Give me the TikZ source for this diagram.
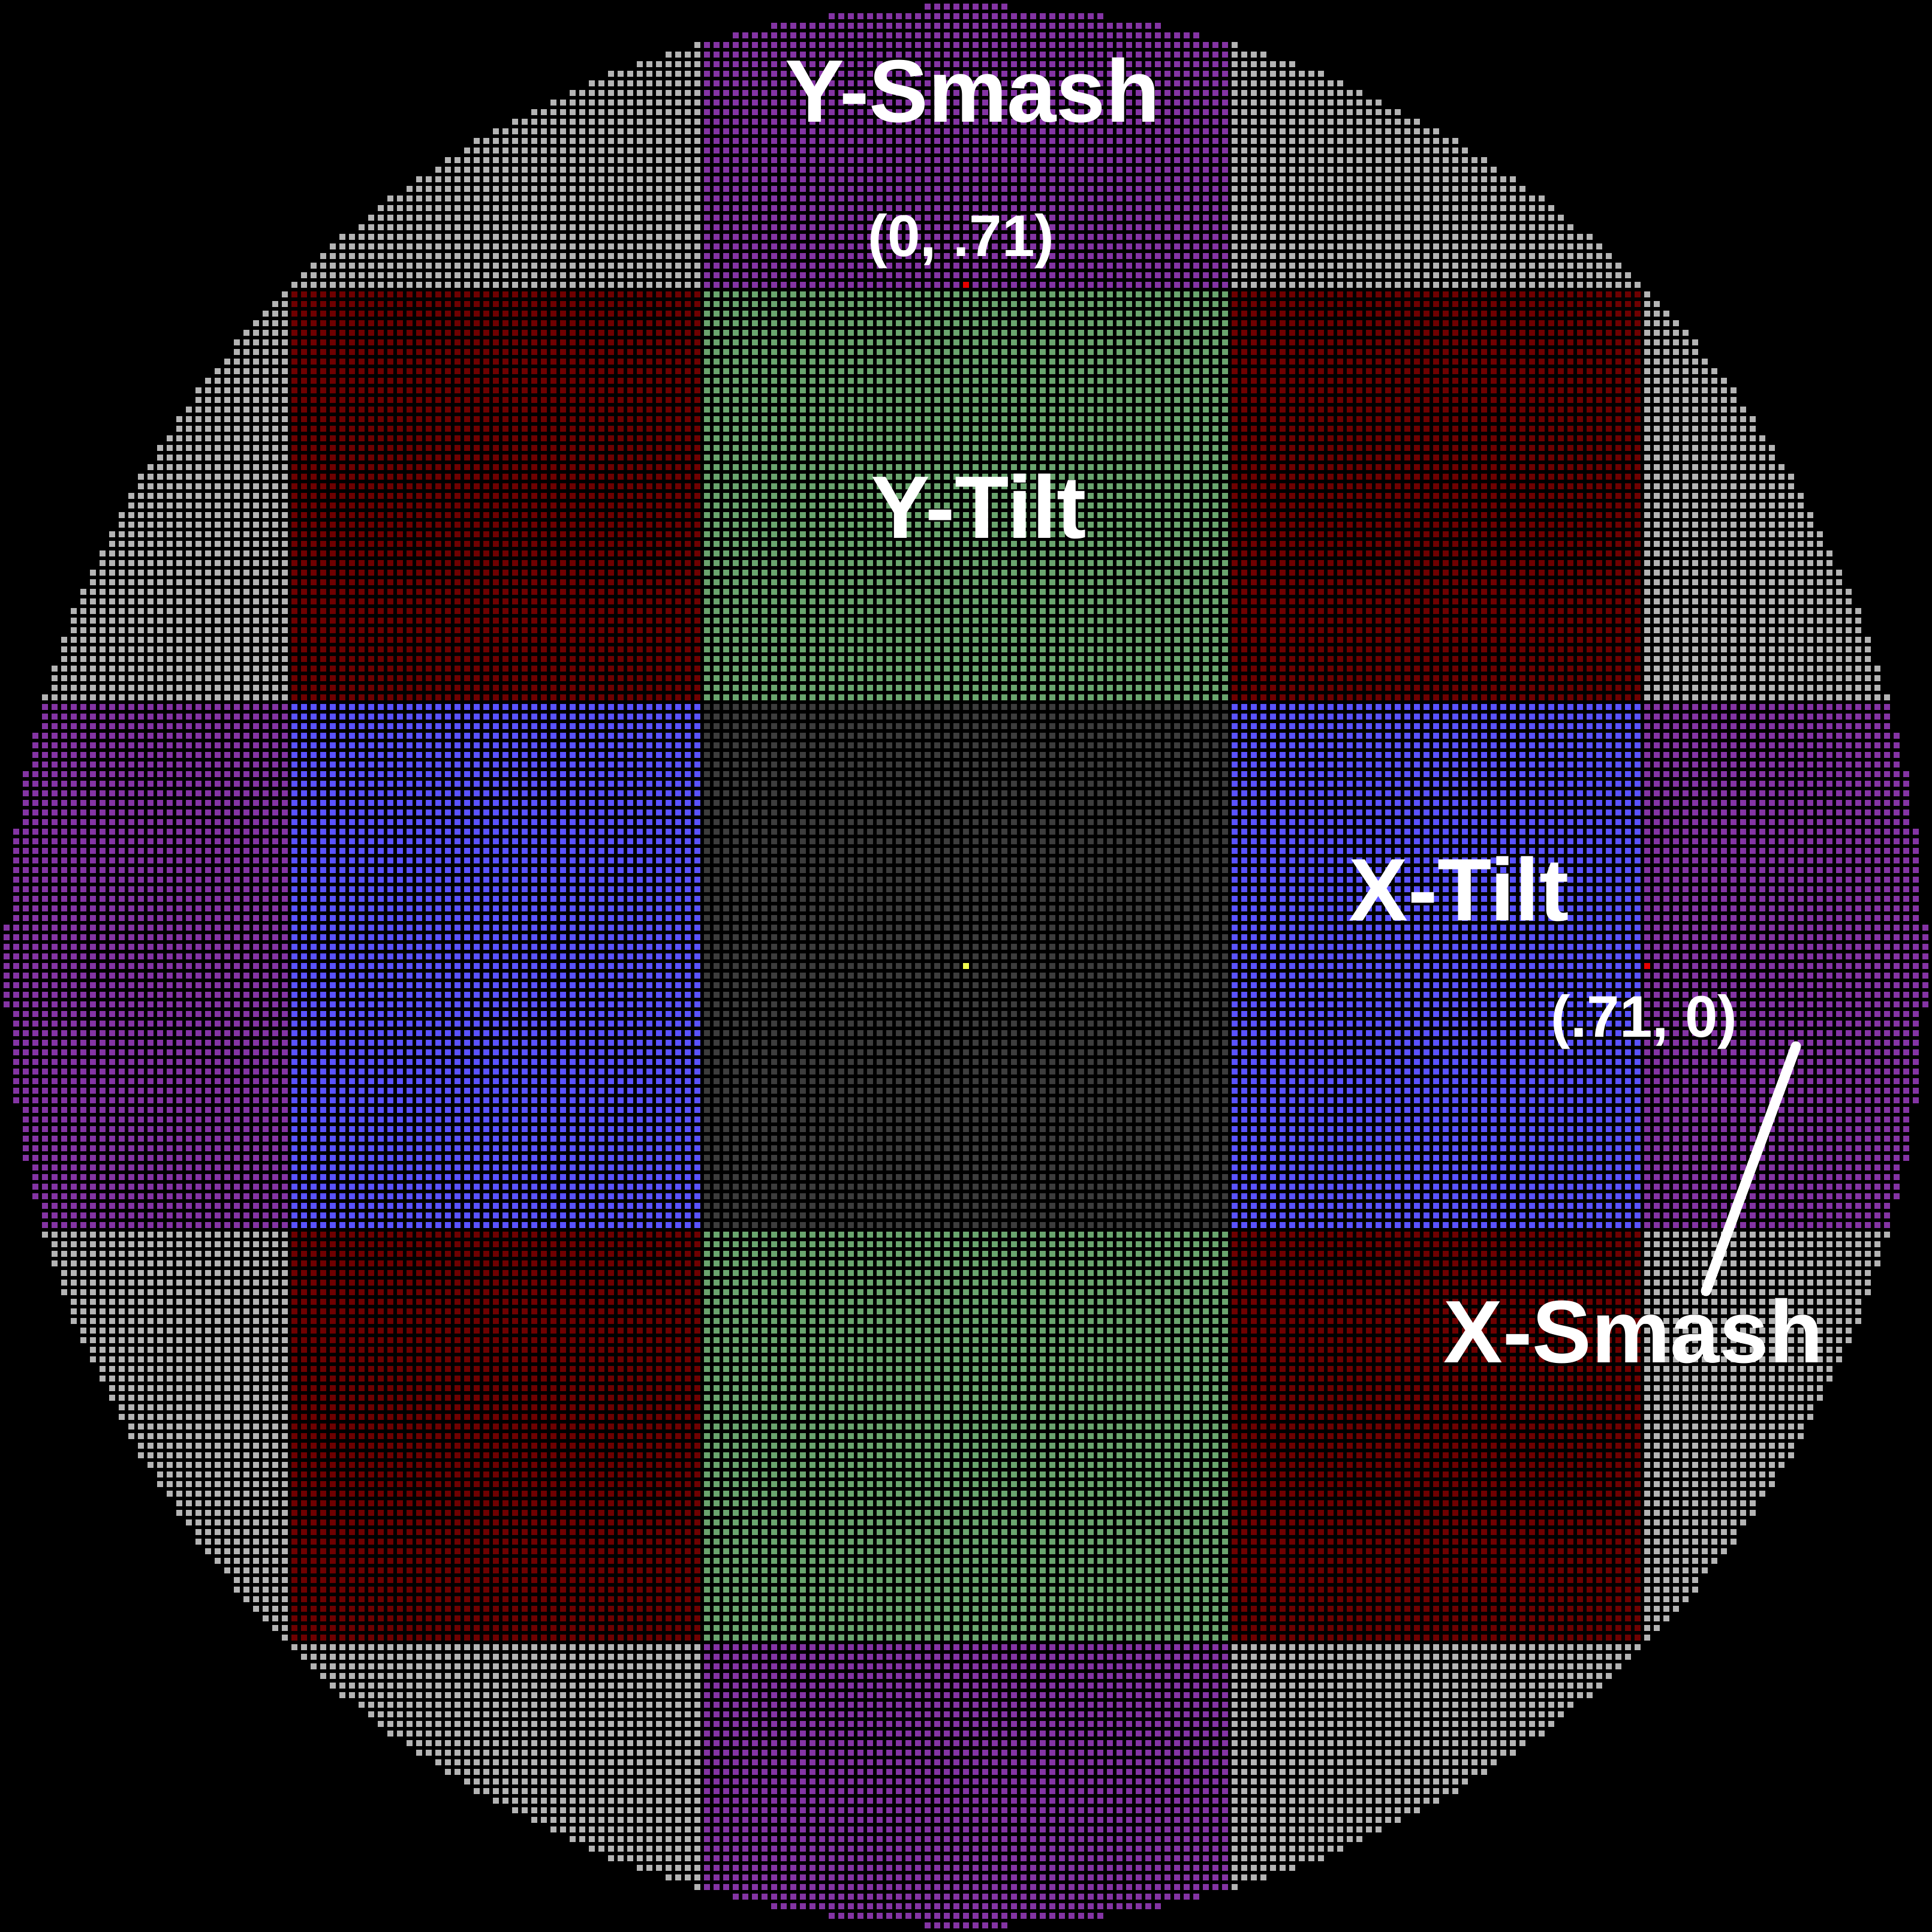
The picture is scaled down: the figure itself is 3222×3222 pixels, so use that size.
\documentclass[tikz,border=0pt]{standalone}
\usepackage{fontspec}
\setmainfont{Liberation Sans}
\definecolor{cz00}{HTML}{3C3C3C}
\definecolor{cz10}{HTML}{5A52FF}
\definecolor{cz20}{HTML}{8434A4}
\definecolor{cz01}{HTML}{6AA46E}
\definecolor{cz11}{HTML}{6E0000}
\definecolor{cz21}{HTML}{B4B4B4}
\definecolor{cz02}{HTML}{8434A4}
\definecolor{cz12}{HTML}{B4B4B4}
\definecolor{cz22}{HTML}{B4B4B4}
\definecolor{markred}{HTML}{E60000}
\definecolor{markyellow}{HTML}{F2FF50}
\tikzset{
  biglbl/.style={text=white, inner sep=0pt, anchor=base, font=\fontsize{148}{150}\selectfont\bfseries},
  smalllbl/.style={text=white, inner sep=0pt, anchor=base, font=\fontsize{98}{100}\selectfont\bfseries},
  leader/.style={draw=white, line width=17pt, line cap=round},
}
\newcommand\segfill[4]{% y-centre, c1, c2, colour
  \fill[#4] ({1611+16*(#2)-5},{#1-5}) rectangle ({1611+16*(#3)+5},{#1+5});}
\newcommand\onecell[3]{% c, r, colour
  \fill[#3] ({1611+16*(#1)-5},{1611+16*(#2)-5}) rectangle ({1611+16*(#1)+5},{1611+16*(#2)+5});}
\begin{document}
\begin{tikzpicture}[x=1pt,y=-1pt]
\fill[black] (0,0) rectangle (3222,3222);
\useasboundingbox (0,0) rectangle (3222,3222);
% rows of cells
\foreach \rw in {-100,...,100}{
  \pgfmathtruncatemacro\m{sqrt(10020-(\rw)*(\rw))}
  \edef\rem{\the\numexpr 10020-(\rw)*(\rw)\relax}
  \ifnum\numexpr(\m+1)*(\m+1)\relax>\rem\relax\else\edef\m{\the\numexpr\m+1\relax}\fi
  \ifnum\numexpr\m*\m\relax>\rem\relax\edef\m{\the\numexpr\m-1\relax}\fi
  \pgfmathtruncatemacro\ar{abs(\rw)}
  \pgfmathsetmacro\yc{1611+16*\rw}
  \ifnum\ar<28 \def\zy{0}\else\ifnum\ar<71 \def\zy{1}\else\def\zy{2}\fi\fi
  \ifnum\m>70
    \segfill{\yc}{-\m}{-71}{cz2\zy}
    \segfill{\yc}{71}{\m}{cz2\zy}
  \fi
  \ifnum\m>27
    \pgfmathtruncatemacro\lo{max(-\m,-70)}
    \segfill{\yc}{\lo}{-28}{cz1\zy}
    \segfill{\yc}{28}{-\lo}{cz1\zy}
  \fi
  \pgfmathtruncatemacro\kk{min(\m,27)}
  \segfill{\yc}{-\kk}{\kk}{cz0\zy}
}
% black gaps between columns
\foreach \k in {-101,...,100}{
  \fill[black] ({1611+16*\k+5},0) rectangle ({1611+16*\k+11},3222);
}
% marked cells
\onecell{0}{0}{markyellow}
\onecell{0}{-71}{markred}
\onecell{71}{0}{markred}
% labels
\node[biglbl] (ysmash) at (1622,204) {Y-Smash};
\node[smalllbl] (ypt) at (1603,427) {(0, .71)};
\node[biglbl] (ytilt) at (1632,897) {Y-Tilt};
\node[biglbl] (xtilt) at (2433,1535) {X-Tilt};
\node[smalllbl] (xpt) at (2742,1729) {(.71, 0)};
\node[biglbl] (xsmash) at (2724,2272) {X-Smash};
% leader line
\coordinate (leadTop) at (2995,1745);
\coordinate (leadBot) at (2845,2153);
\draw[leader] (leadTop) -- (leadBot);
\end{tikzpicture}
\end{document}
